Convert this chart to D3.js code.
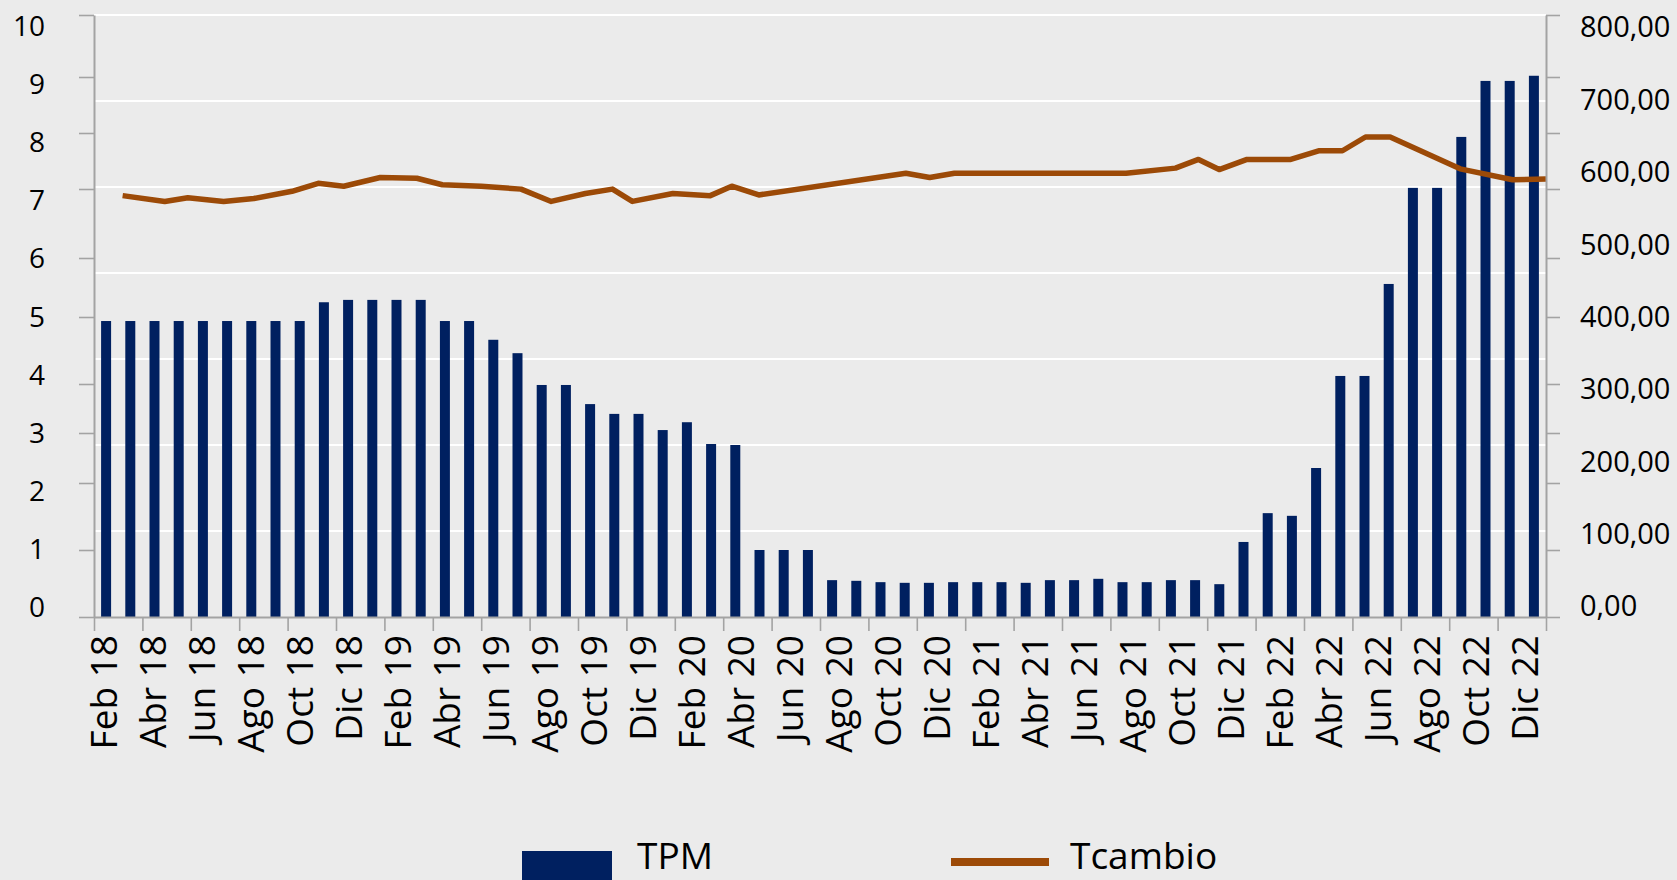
<!DOCTYPE html>
<html>
<head>
<meta charset="utf-8">
<script src="https://cdn.jsdelivr.net/npm/d3@7/dist/d3.min.js"></script>
<style>
  body { margin: 0; background: #ebebeb; overflow: hidden; }
  text { font-family: "Open Sans", sans-serif; fill: #000; }
</style>
</head>
<body>
<div id="chart"></div>
<script>
// ---- data ----
var months = [
  "Feb 18","Mar 18","Abr 18","May 18","Jun 18","Jul 18","Ago 18","Sep 18","Oct 18","Nov 18","Dic 18",
  "Ene 19","Feb 19","Mar 19","Abr 19","May 19","Jun 19","Jul 19","Ago 19","Sep 19","Oct 19","Nov 19","Dic 19",
  "Ene 20","Feb 20","Mar 20","Abr 20","May 20","Jun 20","Jul 20","Ago 20","Sep 20","Oct 20","Nov 20","Dic 20",
  "Ene 21","Feb 21","Mar 21","Abr 21","May 21","Jun 21","Jul 21","Ago 21","Sep 21","Oct 21","Nov 21","Dic 21",
  "Ene 22","Feb 22","Mar 22","Abr 22","May 22","Jun 22","Jul 22","Ago 22","Sep 22","Oct 22","Nov 22","Dic 22",
  "Ene 23"
];

var tpm = [
  4.94, 4.94, 4.94, 4.94, 4.94, 4.94, 4.94, 4.94, 4.94, 5.25, 5.29,
  5.29, 5.29, 5.29, 4.94, 4.94, 4.66, 4.46, 3.98, 3.98, 3.59, 3.39, 3.39,
  3.06, 3.22, 2.78, 2.76, 1.00, 1.00, 1.00, 0.55, 0.54, 0.52, 0.51, 0.51,
  0.52, 0.52, 0.52, 0.51, 0.55, 0.55, 0.57, 0.52, 0.52, 0.55, 0.55, 0.49,
  1.12, 1.55, 1.51, 2.30, 4.12, 4.12, 5.56, 7.02, 7.02, 7.93, 8.93, 8.93,
  9.02
];

var tcDates = [
  "2018-03-09","2018-05-01","2018-05-30","2018-07-14","2018-08-21","2018-10-08",
  "2018-11-10","2018-12-12","2019-01-27","2019-03-14","2019-04-15","2019-06-03",
  "2019-07-23","2019-08-30","2019-10-12","2019-11-15","2019-12-10","2020-01-30",
  "2020-03-17","2020-04-13","2020-05-17","2020-11-18","2020-12-18","2021-01-18",
  "2021-08-22","2021-10-23","2021-11-21","2021-12-17","2022-01-21","2022-03-17",
  "2022-04-21","2022-05-21","2022-06-19","2022-07-20","2022-10-16","2022-12-21",
  "2023-02-01"
];
var tcValues = [
  567, 559, 564, 559, 563, 573,
  584, 580, 592, 591, 582, 580,
  576, 559, 570, 576, 559, 570,
  567, 580, 568, 598, 592, 598,
  598, 605, 617, 603, 617, 617,
  629, 629, 648, 648, 604, 589,
  590
];

var leftTicks = [0, 1, 2, 3, 4, 5, 6, 7, 8, 9, 10];
var rightTicks = [0, 100, 200, 300, 400, 500, 600, 700, 800];
var xTickLabels = [
  "Feb 18","Abr 18","Jun 18","Ago 18","Oct 18","Dic 18",
  "Feb 19","Abr 19","Jun 19","Ago 19","Oct 19","Dic 19",
  "Feb 20","Abr 20","Jun 20","Ago 20","Oct 20","Dic 20",
  "Feb 21","Abr 21","Jun 21","Ago 21","Oct 21","Dic 21",
  "Feb 22","Abr 22","Jun 22","Ago 22","Oct 22","Dic 22"
];

// ---- layout ----
var width = 1677, height = 880;
var x0 = 94, x1 = 1546, yTop = 15, yBase = 617;
var barColor = "#002060", lineColor = "#9c4a07", axisColor = "#a3a3a3";

var svg = d3.select("#chart").append("svg")
  .attr("width", width)
  .attr("height", height);

svg.append("rect")
  .attr("width", width)
  .attr("height", height)
  .attr("fill", "#ebebeb");

// scales
var xBand = d3.scaleBand()
  .domain(months)
  .range([x0, x1])
  .paddingInner(0.587)
  .paddingOuter(0.2935);

var xTime = d3.scaleTime()
  .domain([new Date(2018, 1, 1), new Date(2023, 1, 1)])
  .range([x0, x1]);

var xMonth = d3.scaleLinear().domain([0, months.length]).range([x0, x1]);

var xLabel = d3.scalePoint().domain(xTickLabels).range([104, 1525]);

// left axis tick marks sit unevenly in the original
var yBar = d3.scaleLinear()
  .domain(leftTicks)
  .range([617, 550, 483, 433, 384, 317, 258, 189, 133, 77, 15]);

var yLeftLabel = d3.scaleLinear().domain([0, 10]).range([607, 26]);
var yRight = d3.scaleLinear().domain([0, 800]).range([606, 27]);
var yGrid = d3.scaleLinear().domain([0, 7]).range([yBase, yTop]);

// gridlines
svg.append("g")
  .selectAll("line")
  .data(d3.range(1, 8))
  .enter().append("line")
  .attr("x1", x0)
  .attr("x2", x1)
  .attr("y1", function(d) { return yGrid(d); })
  .attr("y2", function(d) { return yGrid(d); })
  .attr("stroke", "#ffffff")
  .attr("stroke-width", 2);

// bars
svg.append("g")
  .selectAll("rect")
  .data(months)
  .enter().append("rect")
  .attr("x", function(d) { return xBand(d); })
  .attr("width", xBand.bandwidth())
  .attr("y", function(d, i) { return yBar(tpm[i]); })
  .attr("height", function(d, i) { return yBase - yBar(tpm[i]); })
  .attr("fill", barColor);

// line
var tcData = tcDates.map(function(d, i) {
  return { date: d3.timeParse("%Y-%m-%d")(d), v: tcValues[i] };
});

var line = d3.line()
  .x(function(d) { return xTime(d.date); })
  .y(function(d) { return yRight(d.v); });

svg.append("path")
  .datum(tcData)
  .attr("d", line)
  .attr("fill", "none")
  .attr("stroke", lineColor)
  .attr("stroke-width", 5.5)
  .attr("stroke-linejoin", "round");

// axes (tick marks only, labels placed separately)
svg.append("g")
  .attr("transform", "translate(" + x0 + ",0)")
  .call(d3.axisLeft(yBar).tickValues(leftTicks).tickSize(15).tickSizeOuter(0).tickFormat(""));

svg.append("g")
  .attr("transform", "translate(" + x1 + ",0)")
  .call(d3.axisRight(yBar).tickValues(leftTicks).tickSize(14).tickSizeOuter(0).tickFormat(""));

svg.append("g")
  .attr("transform", "translate(0," + yBase + ")")
  .call(d3.axisBottom(xMonth).tickValues(d3.range(0, months.length + 1, 2)).tickSize(14).tickSizeOuter(0).tickFormat(""));

svg.selectAll(".domain, .tick line")
  .attr("stroke", axisColor);
svg.selectAll(".domain").attr("stroke-width", 2);
svg.selectAll(".tick line").attr("stroke-width", 1.6);

// left labels
svg.append("g")
  .selectAll("text")
  .data(leftTicks)
  .enter().append("text")
  .attr("x", 45)
  .attr("y", function(d) { return yLeftLabel(d); })
  .attr("dy", "0.36em")
  .attr("text-anchor", "end")
  .attr("font-size", 28)
  .text(function(d) { return d; });

// right labels
svg.append("g")
  .selectAll("text")
  .data(rightTicks)
  .enter().append("text")
  .attr("x", 1580)
  .attr("y", function(d) { return yRight(d); })
  .attr("dy", "0.36em")
  .attr("text-anchor", "start")
  .attr("font-size", 29)
  .text(function(d) { return d3.format(".2f")(d).replace(".", ","); });

// x labels, rotated
svg.append("g")
  .selectAll("text")
  .data(xTickLabels)
  .enter().append("text")
  .attr("transform", function(d) { return "translate(" + xLabel(d) + ",635) rotate(-90)"; })
  .attr("dy", "0.36em")
  .attr("text-anchor", "end")
  .attr("font-size", 37)
  .text(function(d) { return d; });

// legend
var legend = svg.append("g");
legend.append("rect")
  .attr("x", 522).attr("y", 851)
  .attr("width", 90).attr("height", 29)
  .attr("fill", barColor);
legend.append("text")
  .attr("x", 637).attr("y", 869)
  .attr("font-size", 37)
  .text("TPM");
legend.append("rect")
  .attr("x", 951).attr("y", 858)
  .attr("width", 98).attr("height", 8)
  .attr("fill", lineColor);
legend.append("text")
  .attr("x", 1070).attr("y", 869)
  .attr("font-size", 37)
  .text("Tcambio");
</script>
</body>
</html>
